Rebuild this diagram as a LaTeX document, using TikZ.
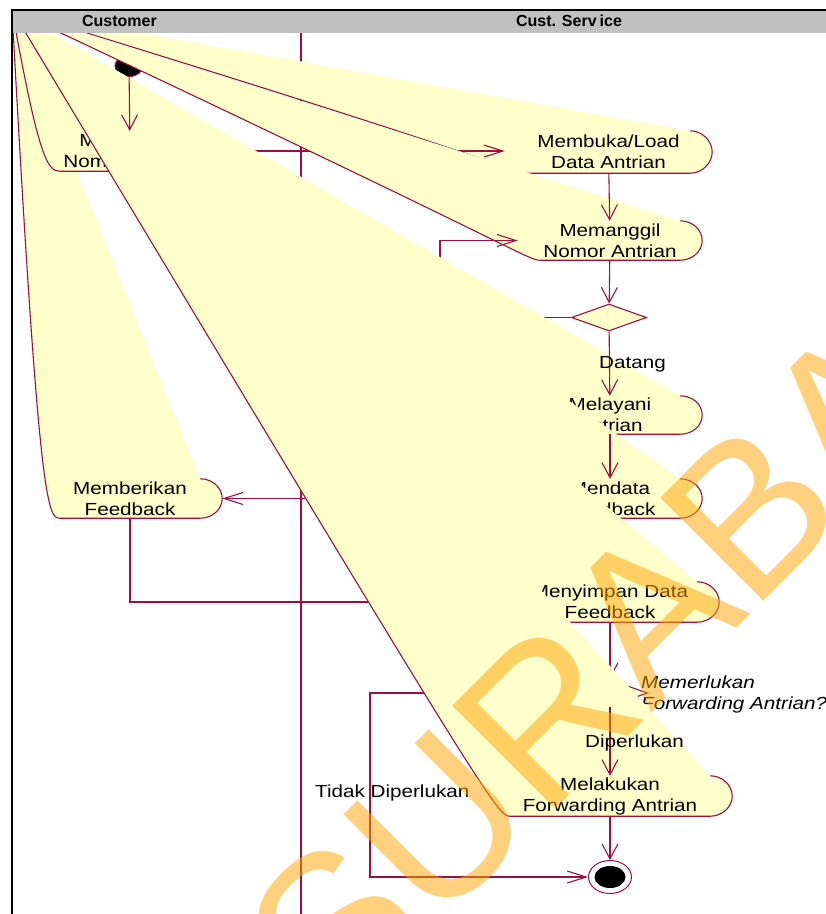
\documentclass[tikz,border=0pt]{standalone}
\usepackage{fontspec}
\setmainfont{Liberation Sans}
\newfontfamily\actfont[FakeStretch=1.18]{Liberation Sans}
\usetikzlibrary{arrows.meta,shapes.geometric,calc}

\definecolor{actfill}{HTML}{FFFFCC}
\definecolor{edgecol}{HTML}{9C1040}
\definecolor{headgray}{HTML}{C0C0C0}
\definecolor{markcol}{HTML}{FFA500}

\tikzset{
  edge/.style={draw=edgecol, line width=1.1pt},
  vflow/.style={edge, -{Straight Barb[length=15pt,width=16pt]}},
  hflow/.style={edge, -{Straight Barb[length=19pt,width=12pt]}},
  actbox/.style={rectangle, inner sep=0pt, draw=none},
  acttext/.style={inner sep=0pt, align=center, font=\actfont\fontsize{17.5}{21}\selectfont},
  guard/.style={inner sep=0pt, font=\actfont\fontsize{17.5}{21}\selectfont},
  decision/.style={diamond, draw=edgecol, line width=1.1pt, fill=actfill,
    minimum width=75pt, minimum height=27pt, inner sep=0pt},
  lanehead/.style={inner sep=0pt, anchor=base, font=\bfseries\fontsize{16}{16}\selectfont},
}

% activity box: name, centre, width, height
\newcommand{\placeact}[4]{%
  \path (#2) node[actbox, minimum width=#3, minimum height=#4] (#1) {};
  \coordinate (#1-ne) at ($(#1.north east)+(-22,0)$);
  \coordinate (#1-se) at ($(#1.south east)+(-22,0)$);
  \coordinate (#1-sw) at ($(#1.south west)+(22,0)$);
}
% activity body and text: name, text
% the fill and outline run back to the frame corner
\newcommand{\paintact}[2]{%
  \fill[actfill] (corner) -- (#1-ne)
    .. controls ($(#1-ne)+(12,0)$) and ($(#1.east)+(0,-11)$) .. (#1.east)
    .. controls ($(#1.east)+(0,11)$) and ($(#1-se)+(12,0)$) .. (#1-se)
    -- (#1-sw)
    .. controls ($(#1-sw)+(-12,0)$) and ($(#1-sw)+(-21,-12)$) .. (corner) -- cycle;
  \draw[edge] (#1-ne)
    .. controls ($(#1-ne)+(12,0)$) and ($(#1.east)+(0,-11)$) .. (#1.east)
    .. controls ($(#1.east)+(0,11)$) and ($(#1-se)+(12,0)$) .. (#1-se)
    -- (#1-sw)
    .. controls ($(#1-sw)+(-12,0)$) and ($(#1-sw)+(-21,-12)$) .. (corner);
  \node[acttext] (#1-text) at (#1.center) {#2};
}

\begin{document}
\begin{tikzpicture}[x=1pt,y=-1pt]
\useasboundingbox (0,0) rectangle (826,914);
\fill[white] (0,0) rectangle (826,914);
\coordinate (corner) at (12,10);

% activity boxes
\placeact{ambil}{130,151}{184pt}{40pt}
\placeact{buka}{608.5,152}{207pt}{42pt}
\placeact{panggil}{610,240.5}{184pt}{39pt}
\placeact{layani}{610,415}{184pt}{38pt}
\placeact{data}{610,498.5}{184pt}{39pt}
\placeact{beri}{130,498.5}{184pt}{39pt}
\placeact{simpan}{610,602}{218pt}{40pt}
\placeact{forward}{610,796}{244pt}{40pt}

% lane divider
\coordinate (divtop) at (301,33);
\coordinate (divbot) at (301,914);
\draw[edge] (divtop) -- (divbot);

% Customer: give feedback
\paintact{beri}{Memberikan\\Feedback}

% Customer: take a number
\node[ellipse, fill=black, draw=edgecol, line width=1pt, minimum width=28pt,
  minimum height=21pt, inner sep=0pt] (init) at (129,66) {};
\paintact{ambil}{Mengambil\\Nomor Antrian}

% Service: open the queue
\paintact{buka}{Membuka/Load\\Data Antrian}
\draw[hflow] (ambil.east) -- (ambil.east -| buka.west);

% Service: call the number
\paintact{panggil}{Memanggil\\Nomor Antrian}
\draw[vflow] (buka) -- (panggil);
\node[decision] (datang) at (609,317.5) {};
\draw[vflow] (panggil) -- (datang);
\coordinate (loopturn) at (440,317.5);
\draw[hflow] (datang.west) -- (loopturn) |- (panggil.west);

% Service: serve
\paintact{layani}{Melayani\\Antrian}
\draw[vflow] (datang) -- (layani);
\node[guard, anchor=base west] (datanglbl) at (599,368) {Datang};

% Service: record feedback
\paintact{data}{Mendata\\Feedback}
\draw[vflow] (layani) -- (data);
\draw[hflow] (data.west) -- (beri.east);

% Service: store feedback
\paintact{simpan}{Menyimpan Data\\Feedback}
\draw[hflow] (beri.south) |- (simpan.west);
\draw[vflow] (init) -- (ambil);

\node[decision] (perlu) at (610,693) {};
\node[guard, anchor=west, align=left, font=\actfont\itshape\fontsize{17.5}{21}\selectfont]
  (perlulbl) at (641,694) {Memerlukan\\Forwarding Antrian?};
\draw[vflow] (simpan) -- (perlu);
\node[ellipse, draw=edgecol, line width=1pt, fill=white, minimum width=43pt,
  minimum height=33pt, inner sep=0pt] (final) at (610,877) {};
\fill[black] (final.center) ellipse [x radius=15.5, y radius=11];
\coordinate (skipturn) at (370,693);
\draw[hflow] (perlu.west) -- (skipturn) |- (final.west);
\node[guard, anchor=base west] (tidaklbl) at (315,797) {Tidak Diperlukan};

% Service: forward the queue
\paintact{forward}{Melakukan\\Forwarding Antrian}
\draw[vflow] (perlu) -- (forward);
\node[guard, anchor=base west] (perlulbl2) at (585,747) {Diperlukan};
\draw[vflow] (forward) -- (final);

% swimlane frame and header
\fill[headgray] (12,10) rectangle (826,33);
\node[lanehead] (custhead) at (119.5,26) {Customer};
\node[lanehead] (svchead) at (569,26) {Cust. Serv\hspace{3pt}ice};
\draw[black, line width=2pt] (12,914) -- (12,10) -- (826,10);

% stamp across the sheet
\node[rotate=45, anchor=base west, text=markcol, text opacity=0.5, inner sep=0pt,
  font=\fontsize{212}{212}\selectfont] (seal) at (335,1030) {SURABAYA};
\end{tikzpicture}
\end{document}
